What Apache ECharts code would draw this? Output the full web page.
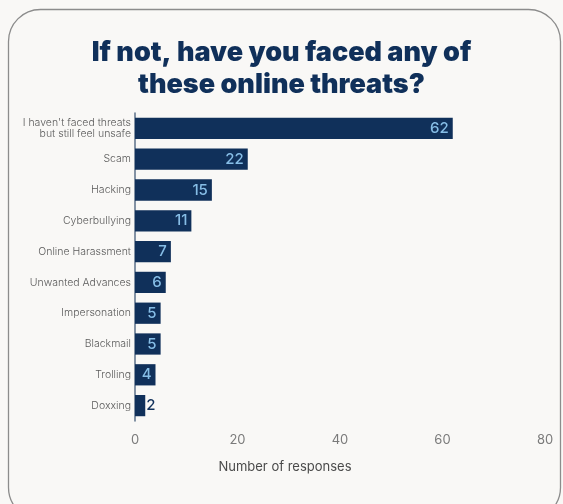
<!DOCTYPE html>
<html>
<head>
<meta charset="utf-8">
<script src="https://cdn.jsdelivr.net/npm/echarts@6/dist/echarts.min.js"></script>
<style>
  html, body { margin: 0; padding: 0; background: #f9f8f6; }
  #chart { width: 563px; height: 504px; }
</style>
</head>
<body>
<div id="chart"></div>
<script>
// Survey answers: online threats faced by respondents
const categories = [
  "I haven't faced threats\nbut still feel unsafe",
  "Scam",
  "Hacking",
  "Cyberbullying",
  "Online Harassment",
  "Unwanted Advances",
  "Impersonation",
  "Blackmail",
  "Trolling",
  "Doxxing"
];
const responses = [62, 22, 15, 11, 7, 6, 5, 5, 4, 2];
const xTicks = [0, 20, 40, 60, 80];

const navy = '#10305a';
const labelBlue = '#86bde6';

const chart = echarts.init(document.getElementById('chart'), null, { renderer: 'canvas' });

chart.setOption({
  backgroundColor: '#f9f8f6',
  animation: false,
  graphic: [{
    type: 'rect',
    shape: { x: 8.5, y: 9.5, width: 552, height: 510, r: 32 },
    style: { fill: '#f9f8f6', stroke: '#8c8c8c', lineWidth: 1.3 },
    z: -10
  }],
  title: {
    text: 'If not, have you faced any of\nthese online threats?',
    left: 'center',
    top: 32,
    textStyle: {
      fontFamily: 'Inter',
      fontWeight: 900,
      fontSize: 27,
      lineHeight: 32,
      color: '#10305a'
    }
  },
  grid: { left: 135, right: 18, top: 113, bottom: 83, containLabel: false },
  xAxis: {
    type: 'value',
    min: xTicks[0],
    max: xTicks[xTicks.length - 1],
    interval: xTicks[1] - xTicks[0],
    splitLine: { show: false },
    axisLine: { show: false },
    axisTick: { show: false },
    axisLabel: {
      color: '#7a7a7a',
      fontFamily: 'Inter',
      fontSize: 13,
      margin: 13
    },
    name: 'Number of responses',
    nameLocation: 'middle',
    nameGap: 40,
    nameTextStyle: {
      color: '#4a4a4a',
      fontFamily: 'Inter',
      fontSize: 13,
      padding: [0, 110, 0, 0]
    }
  },
  yAxis: {
    type: 'category',
    data: categories,
    inverse: true,
    axisLine: { show: true, lineStyle: { color: '#5b7089', width: 1.5 } },
    axisTick: { show: false },
    axisLabel: {
      color: '#5a5a5a',
      fontFamily: 'Inter',
      fontWeight: 300,
      fontSize: 10.5,
      lineHeight: 11,
      margin: 4,
      align: 'right'
    }
  },
  series: [{
    type: 'bar',
    data: responses.map(function (v) {
      const small = v < 3;
      return {
        value: v,
        label: small
          ? { position: 'right', distance: 1, color: navy }
          : { position: 'insideRight', distance: 4, color: labelBlue }
      };
    }),
    barCategoryGap: '31%',
    itemStyle: { color: navy },
    label: {
      show: true,
      fontFamily: 'Inter',
      fontWeight: 500,
      fontSize: 15
    }
  }]
});
</script>
</body>
</html>
